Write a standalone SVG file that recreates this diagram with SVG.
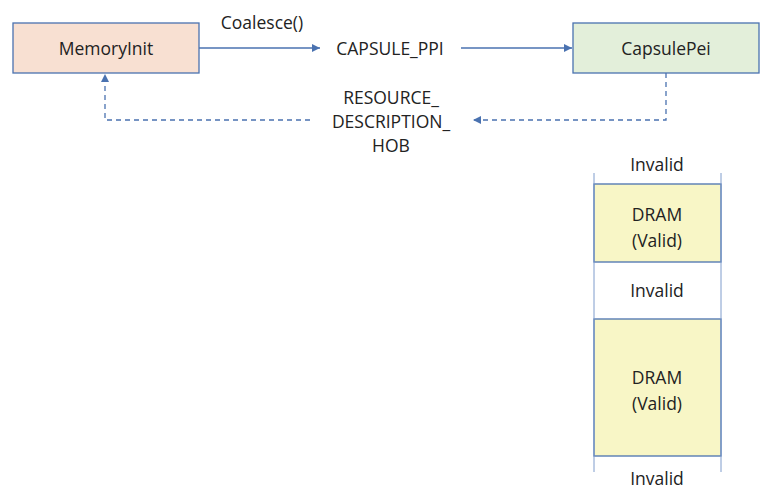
<svg xmlns="http://www.w3.org/2000/svg" width="769" height="495" viewBox="0 0 769 495">
<defs>
<style>
text{font-family:"Open Sans","Liberation Sans",sans-serif;font-size:17.5px;fill:#222;text-anchor:middle;dominant-baseline:central}
.node{stroke:#4a72b0;stroke-width:1.3}
.conn{fill:none;stroke:#4a72b0;stroke-width:1.3}
.dash{stroke-dasharray:5 4}
.mem{fill:none;stroke:#7f9ccc;stroke-width:1}
</style>
<marker id="ah" viewBox="0 0 10 10" refX="10" refY="5" markerWidth="8" markerHeight="8" markerUnits="userSpaceOnUse" orient="auto"><path d="M0,0 L10,5 L0,10 z" fill="#4a72b0"/></marker>
</defs>
<g id="connectors">
<line class="conn" x1="199" y1="48" x2="320" y2="48" marker-end="url(#ah)"/>
<line class="conn" x1="461" y1="48" x2="572" y2="48" marker-end="url(#ah)"/>
<polyline class="conn dash" points="666,73 666,120 473,120" marker-end="url(#ah)"/>
<polyline class="conn dash" points="310,120 105,120 105,74" marker-end="url(#ah)"/>
<text x="262" y="22">Coalesce()</text>
<text x="390" y="48">CAPSULE_PPI</text>
<text x="391" y="97">RESOURCE_</text>
<text x="391" y="121">DESCRIPTION_</text>
<text x="391" y="145">HOB</text>
</g>
<g id="MemoryInit">
<rect class="node" x="13" y="23" width="186" height="50" fill="#f8e0d2"/>
<text x="106" y="48">MemoryInit</text>
</g>
<g id="CapsulePei">
<rect class="node" x="573" y="23" width="186" height="50" fill="#e3efda"/>
<text x="666" y="48">CapsulePei</text>
</g>
<g id="memory-map">
<rect x="594" y="184" width="127" height="78" fill="#f8f6c6" stroke="#4a72b0" stroke-width="1.3"/>
<rect x="594" y="319" width="127" height="137" fill="#f8f6c6" stroke="#4a72b0" stroke-width="1.3"/>
<line class="mem" x1="594" y1="173" x2="594" y2="472"/>
<line class="mem" x1="721" y1="173" x2="721" y2="472"/>
<text x="657" y="164">Invalid</text>
<text x="657" y="214">DRAM</text>
<text x="657" y="240">(Valid)</text>
<text x="657" y="290">Invalid</text>
<text x="657" y="377">DRAM</text>
<text x="657" y="403">(Valid)</text>
<text x="657" y="478">Invalid</text>
</g>
</svg>
